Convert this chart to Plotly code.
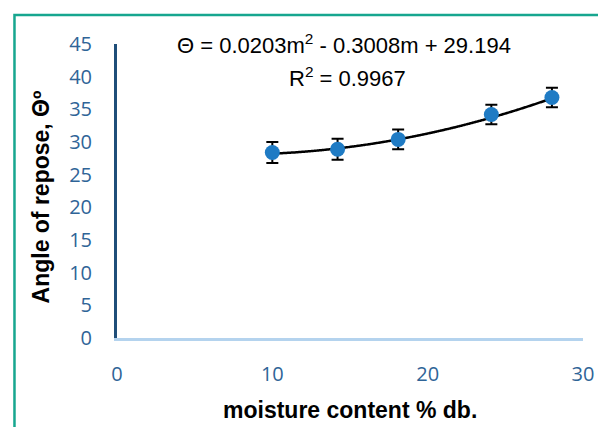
import numpy as np
import plotly.graph_objects as go

# Data
moisture = [10.0, 14.2, 18.1, 24.1, 28.0]
angle = [28.4, 28.9, 30.4, 34.2, 36.8]
angle_err = [1.6, 1.6, 1.5, 1.5, 1.5]
fit_coeffs = [0.0203, -0.3008, 29.194]
x_ticks = [0, 10, 20, 30]
y_ticks = [0, 5, 10, 15, 20, 25, 30, 35, 40, 45]

OFF = 8  # page body margin
W, H = 606 - OFF, 427 - OFF
L, T = 117 - OFF, 44 - OFF
pw, ph = 475, 294
R, B = W - L - pw, H - T - ph

def px(x):
    return (x - OFF - L) / pw

def py(y):
    return (H - B - (y - OFF)) / ph

xf = np.linspace(min(moisture), max(moisture), 200)
yf = np.polyval(fit_coeffs, xf)

fig = go.Figure()
fig.add_trace(go.Scatter(x=xf, y=yf, mode="lines",
                         line=dict(color="black", width=2.5, shape="spline"),
                         showlegend=False, hoverinfo="skip"))
fig.add_trace(go.Scatter(x=moisture, y=angle, mode="markers",
                         marker=dict(color="#1f7bc4", size=15),
                         error_y=dict(type="data", array=angle_err, color="black",
                                      thickness=2, width=6),
                         showlegend=False))

blue = "#2f6497"
fig.update_layout(
    width=W, height=H,
    margin=dict(l=L, r=R, t=T, b=B),
    paper_bgcolor="white", plot_bgcolor="white",
    font=dict(family="Open Sans", color=blue),
    xaxis=dict(range=[0, 30], tickvals=x_ticks, showgrid=False, zeroline=False,
               showline=True, linecolor="#b4d3ee", linewidth=2.5,
               tickfont=dict(size=20, color=blue), ticks="", ticklabelstandoff=16),
    yaxis=dict(range=[0, 45], tickvals=y_ticks, showgrid=False, zeroline=False,
               showline=True, linecolor="#1f4e79", linewidth=3,
               tickfont=dict(size=20, color=blue), ticks="", ticklabelstandoff=18),
    shapes=[dict(type="rect", xref="paper", yref="paper",
                 x0=px(12.5), x1=px(640), y0=py(15), y1=py(460),
                 line=dict(color="#17a68f", width=2.5), fillcolor="rgba(0,0,0,0)")],
    annotations=[
        dict(text="Θ = 0.0203m<sup>2</sup> - 0.3008m + 29.194", x=px(348), y=py(44),
             xref="paper", yref="paper", showarrow=False,
             font=dict(family="Liberation Sans", size=22, color="black"),
             xanchor="center", yanchor="middle"),
        dict(text="R<sup>2</sup> = 0.9967", x=px(352), y=py(77),
             xref="paper", yref="paper", showarrow=False,
             font=dict(family="Liberation Sans", size=22, color="black"),
             xanchor="center", yanchor="middle"),
        dict(text="<b>moisture content % db.</b>", x=px(355), y=py(410),
             xref="paper", yref="paper", showarrow=False,
             font=dict(family="Liberation Sans", size=23, color="black"),
             xanchor="center", yanchor="middle"),
        dict(text="<b>Angle of repose, Θº</b>", x=px(40), y=py(197),
             xref="paper", yref="paper", showarrow=False, textangle=-90,
             font=dict(family="Liberation Sans", size=23, color="black"),
             xanchor="center", yanchor="middle"),
    ],
)
fig.write_html("out.html")
